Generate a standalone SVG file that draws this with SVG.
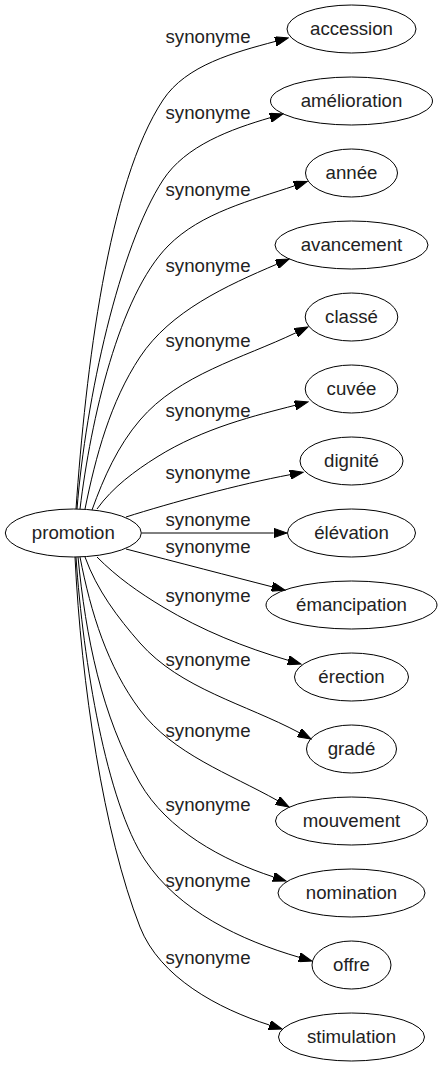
<svg xmlns="http://www.w3.org/2000/svg" width="442" height="1067" viewBox="0 0 442 1067">
<defs>
<style>
.node ellipse{fill:none;stroke:#000;stroke-width:1}
.node text{font-family:"Liberation Sans",Arial,sans-serif;font-size:18.67px;fill:#222;text-anchor:middle}
.edges path{fill:none;stroke:#000;stroke-width:1;marker-end:url(#arr)}
.edges text{font-family:"Liberation Sans",Arial,sans-serif;font-size:18.67px;fill:#222;text-anchor:middle}
</style>
<marker id="arr" viewBox="0 0 14 9.4" markerWidth="14" markerHeight="9.4" refX="0" refY="4.7" orient="auto" markerUnits="userSpaceOnUse"><path d="M0,0 L13.3,4.7 L0,9.4 Z" fill="#000" stroke="#000" stroke-width="1"/></marker>
</defs>
<rect width="442" height="1067" fill="#fff"/>
<g id="connectors" class="edges">
<path d="M76,509 C85.7,370 108,183 163,100 C186,65 234.8,52.3 275.4,41.4"/>
<path d="M77,509 C85.8,399 119.3,247 163,180 C185.4,145.6 230.8,129.2 270.2,117.7"/>
<path d="M80,509 C90.8,419.6 119,295.7 168,246 C200.9,212.6 251.5,200.4 294.6,185.8"/>
<path d="M85,509 C95.8,456 110.3,401.8 140,357 C170.3,311.3 226.2,285.7 276.8,264.2"/>
<path d="M92,510 C103.9,477 117.9,445.8 140,420 C179,374.4 242,358.5 296,332.7"/>
<path d="M97,509 C112.6,487.2 135,470.8 157,457 C203.6,427.8 256.3,415.3 295.1,405.3"/>
<path d="M126,517 C170,503 240,484 290,474.7"/>
<path d="M141.7,533 L273.7,533"/>
<path d="M126,549 C180,563 230,576 272.1,586.8"/>
<path d="M97,557 C116.6,576.9 139,592.6 163,607 C201.6,630.2 245,647.7 288.2,660.3"/>
<path d="M85,557 C96.9,590 117.6,617.5 140,643 C180.3,688.8 245.6,704 299.3,732.7"/>
<path d="M80,557 C90.8,613 107.6,666.8 140,710 C173,754 229.5,773.6 277.4,800.5"/>
<path d="M78,557 C85.7,636.6 101.5,716.3 140,783 C167,829.8 222.1,860.2 273.4,876.9"/>
<path d="M76,557 C83.2,662.8 106.5,801.6 145,860 C178.6,910.9 240.6,940.2 299.2,957.3"/>
<path d="M75,557 C81.2,683.9 103.6,834 140,927 C159.7,977.2 218.1,1008.8 269.4,1025"/>
<text x="208" y="43">synonyme</text>
<text x="208" y="119">synonyme</text>
<text x="208" y="196">synonyme</text>
<text x="208" y="272">synonyme</text>
<text x="208" y="347">synonyme</text>
<text x="208" y="417">synonyme</text>
<text x="208" y="479">synonyme</text>
<text x="208" y="526">synonyme</text>
<text x="208" y="553">synonyme</text>
<text x="208" y="602">synonyme</text>
<text x="208" y="666">synonyme</text>
<text x="208" y="737">synonyme</text>
<text x="208" y="811">synonyme</text>
<text x="208" y="887">synonyme</text>
<text x="208" y="964">synonyme</text>
</g>
<g id="promotion" class="node"><ellipse cx="73.3" cy="533" rx="68" ry="24"/><text x="73.3" y="539">promotion</text></g>
<g id="accession" class="node"><ellipse cx="351.5" cy="29" rx="64.5" ry="24"/><text x="351.5" y="35">accession</text></g>
<g id="amelioration" class="node"><ellipse cx="351.5" cy="101" rx="81" ry="24"/><text x="351.5" y="107">amélioration</text></g>
<g id="annee" class="node"><ellipse cx="351.5" cy="173" rx="46" ry="24"/><text x="351.5" y="179">année</text></g>
<g id="avancement" class="node"><ellipse cx="351.5" cy="245" rx="76.5" ry="24"/><text x="351.5" y="251">avancement</text></g>
<g id="classe" class="node"><ellipse cx="351.5" cy="317" rx="46.3" ry="24"/><text x="351.5" y="323">classé</text></g>
<g id="cuvee" class="node"><ellipse cx="351.5" cy="389" rx="46.3" ry="24"/><text x="351.5" y="395">cuvée</text></g>
<g id="dignite" class="node"><ellipse cx="351.5" cy="461" rx="51.5" ry="24"/><text x="351.5" y="467">dignité</text></g>
<g id="elevation" class="node"><ellipse cx="351.5" cy="533" rx="64" ry="24"/><text x="351.5" y="539">élévation</text></g>
<g id="emancipation" class="node"><ellipse cx="351.5" cy="605" rx="85.5" ry="24"/><text x="351.5" y="611">émancipation</text></g>
<g id="erection" class="node"><ellipse cx="351.5" cy="677" rx="57" ry="24"/><text x="351.5" y="683">érection</text></g>
<g id="grade" class="node"><ellipse cx="351.5" cy="749" rx="45" ry="24"/><text x="351.5" y="755">gradé</text></g>
<g id="mouvement" class="node"><ellipse cx="351.5" cy="821" rx="76" ry="24"/><text x="351.5" y="827">mouvement</text></g>
<g id="nomination" class="node"><ellipse cx="351.5" cy="893" rx="73.5" ry="24"/><text x="351.5" y="899">nomination</text></g>
<g id="offre" class="node"><ellipse cx="351.5" cy="965" rx="39.5" ry="24"/><text x="351.5" y="971">offre</text></g>
<g id="stimulation" class="node"><ellipse cx="351.5" cy="1037" rx="73" ry="24"/><text x="351.5" y="1043">stimulation</text></g>
</svg>
